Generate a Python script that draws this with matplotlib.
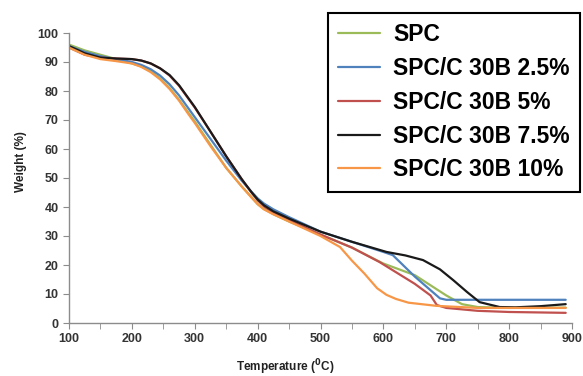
import matplotlib
matplotlib.use("Agg")
import matplotlib.pyplot as plt
from matplotlib.ticker import MultipleLocator

plt.rcParams['font.family'] = ['Liberation Sans', 'DejaVu Sans']

# Data (Temperature in °C, Weight in %)
spc_t = [100, 125, 150, 175, 200, 215, 230, 245, 260, 275, 290, 300, 325, 350, 375, 390, 400, 410, 425, 450, 500, 550, 600, 650, 700, 725, 750, 800, 890]
spc_w = [96, 94, 92.5, 91, 89.5, 88.5, 86.8, 84.3, 81, 77, 72.5, 69.5, 61.5, 53.5, 47, 43.5, 41, 39.3, 37.5, 35, 30.5, 26, 20.5, 16.5, 9.5, 6.5, 5.5, 5.2, 5.3]

b25_t = [100, 125, 150, 175, 200, 215, 230, 245, 260, 275, 290, 300, 325, 350, 375, 390, 400, 410, 425, 450, 500, 550, 600, 615, 650, 690, 700, 890]
b25_w = [95.5, 93.5, 92, 91, 90, 89, 87.5, 85.3, 82.3, 78.5, 74, 71, 63.5, 56, 49, 45.3, 43, 41.2, 39.2, 36.5, 31.5, 28, 24.5, 23.4, 16, 8.5, 8.0, 8.0]

b5_t = [100, 125, 150, 175, 200, 215, 230, 245, 260, 275, 290, 300, 325, 350, 375, 390, 400, 410, 425, 450, 500, 550, 594, 650, 675, 685, 700, 750, 800, 890]
b5_w = [95, 92.5, 91.5, 91.2, 91, 90.5, 89.5, 87.8, 85.3, 81.8, 77.3, 74.3, 66, 57.5, 49.5, 45, 42.3, 40.2, 38, 35.5, 30.5, 26, 21, 13.5, 9.5, 6.2, 5.2, 4.2, 3.8, 3.5]

b75_t = [100, 125, 150, 175, 200, 215, 230, 245, 260, 275, 290, 300, 325, 350, 375, 390, 400, 410, 425, 450, 500, 550, 605, 635, 663, 690, 711, 733, 753, 785, 810, 850, 890]
b75_w = [95.5, 93, 91.5, 91.2, 91, 90.5, 89.5, 87.8, 85.5, 82, 77.5, 74.5, 66, 57.5, 49.5, 45.2, 42.6, 40.6, 38.5, 36, 31.5, 28, 24.5, 23.3, 21.7, 18.5, 14.8, 10.7, 7.2, 5.5, 5.4, 5.8, 6.5]

b10_t = [100, 125, 150, 175, 200, 215, 230, 245, 260, 275, 290, 300, 325, 350, 375, 390, 400, 410, 425, 450, 500, 531, 550, 570, 590, 605, 620, 640, 685, 750, 890]
b10_w = [95, 92.5, 91, 90.3, 89.5, 88.3, 86.5, 84, 80.7, 76.7, 72, 69, 61, 53.5, 47, 43.3, 41, 39.2, 37.5, 35, 30, 26.2, 21.5, 17, 12, 9.7, 8.3, 7, 5.9, 5.2, 5.2]

labels = ['SPC', 'SPC/C 30B 2.5%', 'SPC/C 30B 5%', 'SPC/C 30B 7.5%', 'SPC/C 30B 10%']
colors = ['#9BBB59', '#4F81BD', '#C0504D', '#1a1a1a', '#F79646']
series = [(spc_t, spc_w), (b25_t, b25_w), (b5_t, b5_w), (b75_t, b75_w), (b10_t, b10_w)]

fig = plt.figure(figsize=(5.83, 3.76), dpi=100)
ax = fig.add_axes([69/583, 1-323/376, (572-69)/583, (323-33)/376])

for (t, w), c, lab in zip(series, colors, labels):
    ax.plot(t, w, color=c, lw=1.6, label=lab, solid_capstyle='round', solid_joinstyle='round')

ax.set_xlim(100, 900)
ax.set_ylim(0, 100)
ax.xaxis.set_major_locator(MultipleLocator(100))
ax.xaxis.set_minor_locator(MultipleLocator(50))
ax.yaxis.set_major_locator(MultipleLocator(10))
for s in ['top', 'right']:
    ax.spines[s].set_visible(False)
for s in ['left', 'bottom']:
    ax.spines[s].set_color('#8c8c8c')
    ax.spines[s].set_linewidth(1.0)
ax.tick_params(axis='both', which='both', direction='out', color='#8c8c8c', labelcolor='#333333')
ax.tick_params(axis='both', which='major', length=4, labelsize=9)
ax.tick_params(axis='x', which='minor', length=4)
for lbl in ax.get_xticklabels() + ax.get_yticklabels():
    lbl.set_fontweight('bold')

ax.set_ylabel('Weight (%)', fontsize=8.5, fontweight='bold', color='#222222')
ax.yaxis.set_label_coords((27-69)/503, (323-162)/290)
ax.set_xlabel(r'Temperature ($^{\mathbf{0}}$C)', fontsize=8.5, fontweight='bold', color='#222222')
ax.xaxis.set_label_coords((285-69)/503, (323-357)/290)

leg = ax.legend(loc='upper left', bbox_to_anchor=(328/583, 1-13/376), bbox_transform=fig.transFigure,
                fancybox=False, edgecolor='black', framealpha=1, prop={'weight': 'bold', 'size': 16.5},
                handlelength=1.8, handletextpad=0.6, labelspacing=0.47, borderpad=0.45, borderaxespad=0)
leg.get_frame().set_linewidth(1.5)

fig.savefig('out.png', dpi=100)
